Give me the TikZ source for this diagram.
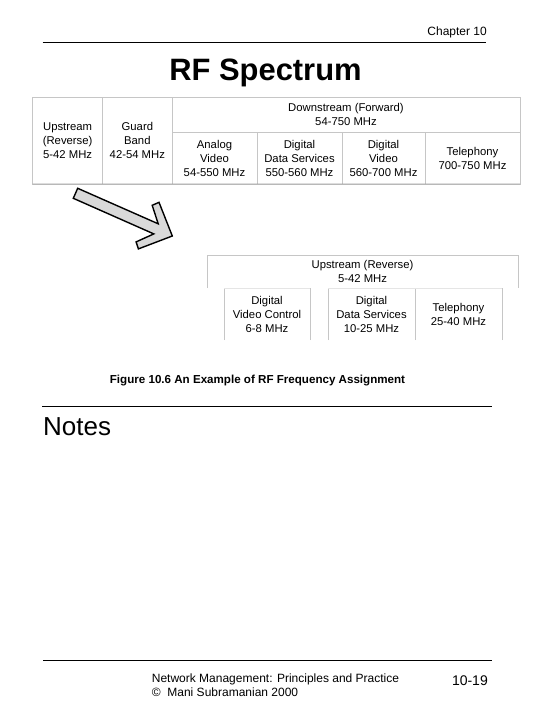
\documentclass[tikz,border=0pt]{standalone}
\usepackage{fontspec}
\setmainfont{Liberation Sans}
\usetikzlibrary{positioning}

\begin{document}
\begin{tikzpicture}[
        x=1pt, y=-1pt,
        font=\fontsize{11.3}{14}\selectfont,
        node distance=0pt,
        cell/.style={draw=gray!45, line width=0.8pt, align=center, inner sep=0pt, outer sep=0pt, minimum height=#1},
        openbox/.style={align=center, inner sep=0pt, outer sep=0pt, minimum height=#1},
        cellline/.style={draw=gray!45, line width=0.8pt},
        rule/.style={line width=1pt},
        bigarrow/.style={draw=black, line width=1.4pt, fill=gray!30, line join=miter}
    ]
        \fill[white] (0,0) rectangle (540,706);
        \useasboundingbox (0,0) rectangle (540,706);

        \node[anchor=base east, inner sep=0pt, font=\fontsize{12}{14}\selectfont] (chap) at (487,35.3) {Chapter 10};
        \node[anchor=base, inner sep=0pt, font=\fontsize{30.9}{34}\selectfont\bfseries] (title) at (265.5,81) {RF Spectrum};

        \node[cell=87pt, minimum width=70.2pt] (up) at (67.6,140.5) {Upstream\\(Reverse)\\5-42 MHz};
        \node[cell=87pt, minimum width=69.3pt, right=of up] (guard) {Guard\\Band\\42-54 MHz};
        \node[cell=35.7pt, minimum width=348pt, anchor=north west] (down) at (guard.north east) {Downstream (Forward)\\54-750 MHz};
        \node[cell=51.3pt, minimum width=85pt, anchor=north west] (analog) at (down.south west) {Analog\\Video\\54-550 MHz};
        \node[cell=51.3pt, minimum width=85pt, right=of analog] (ddata) {Digital\\Data Services\\550-560 MHz};
        \node[cell=51.3pt, minimum width=83pt, right=of ddata] (dvideo) {Digital\\Video\\560-700 MHz};
        \node[cell=51.3pt, minimum width=95pt, right=of dvideo] (tel) {Telephony\\700-750 MHz};
        \draw[line width=0.8pt, gray!75] (up.south west) -- (tel.south east);

        \draw[bigarrow] (77.7,188.3) -- (158.2,223.8) -- (152.2,205.3) -- (159.0,202.3) -- (172.3,236)
            -- (138.4,248.9) -- (136.1,241.9) -- (153.8,233.9) -- (73.3,198.3) -- cycle;

        \node[openbox=33pt, minimum width=311pt] (uhead) at (362.5,271.5) {Upstream (Reverse)\\5-42 MHz};
        \node[openbox=52pt, minimum width=86pt] (vctl) at (267,314) {Digital\\Video Control\\6-8 MHz};
        \node[openbox=52pt, minimum width=87pt] (dds) at (371.5,314) {Digital\\Data Services\\10-25 MHz};
        \node[openbox=52pt, minimum width=87pt, right=of dds] (tel2) {Telephony\\25-40 MHz};
        \draw[cellline] (uhead.south west) -- (uhead.north west) -- (uhead.north east) -- (uhead.south east);
        \draw[cellline] (vctl.south west) -- (vctl.north west);
        \draw[cellline] (vctl.south east) -- (vctl.north east);
        \draw[cellline] (dds.south west) -- (dds.north west);
        \draw[cellline] (dds.south east) -- (dds.north east);
        \draw[cellline] (tel2.south east) -- (tel2.north east);
        \draw[cellline, gray!20] (vctl.north west) -- (vctl.north east);
        \draw[cellline, gray!20] (dds.north west) -- (tel2.north east);

        \node[anchor=base, inner sep=0pt, font=\fontsize{11.6}{14}\selectfont\bfseries] (caption) at (257.5,383.2) {Figure 10.6 An Example of RF Frequency Assignment};
        \node[anchor=base west, inner sep=0pt, font=\fontsize{26}{30}\selectfont] (notes) at (43,435) {Notes};

        \node[anchor=base west, inner sep=0pt, font=\fontsize{12}{14}\selectfont] (footA) at (151.7,682.3) {Network Management: Principles and Practice};
        \node[anchor=base west, inner sep=0pt, font=\fontsize{12}{14}\selectfont] (footB) at (151.7,696.3) {© \ Mani Subramanian 2000};
        \node[anchor=base east, inner sep=0pt, font=\fontsize{14}{16}\selectfont] (page) at (488,685) {10-19};

        \draw[rule] (42.7,42.3) -- (486,42.3);
        \draw[rule] (42,406) -- (492,406);
        \draw[rule] (43,660) -- (492,660);
    \end{tikzpicture}
\end{document}
